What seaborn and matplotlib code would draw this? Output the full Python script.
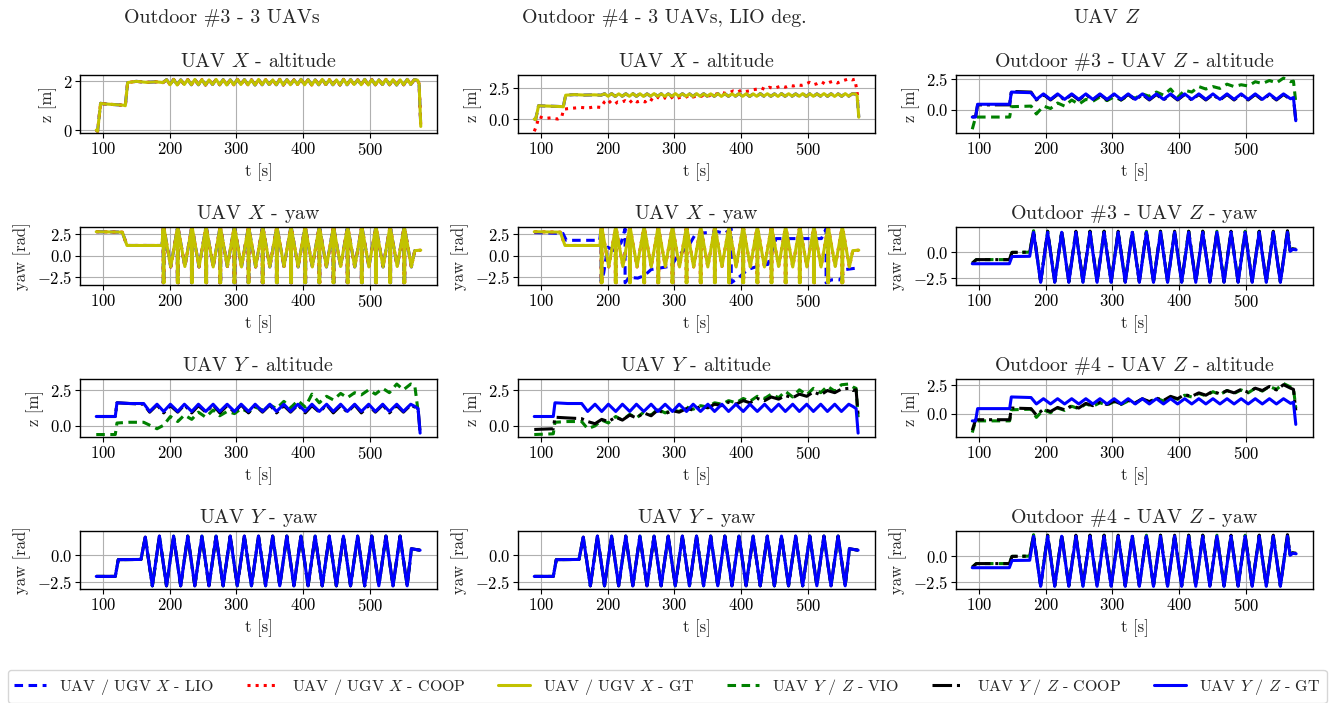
import matplotlib
matplotlib.use("Agg")
import matplotlib.pyplot as plt
import seaborn as sns

# ---------------- data ----------------
# UAV X yaw, ground truth (same trajectory in both runs, wraps at +-pi)
t_x_yaw = [90, 129, 136, 188.5,
           190.2, 190.2, 190.9, 191.6, 191.6, 201.5,
           211.4, 211.4, 212.1, 212.8, 212.8, 222.7,
           232.6, 232.6, 233.3, 234.0, 234.0, 243.9,
           253.8, 253.8, 254.5, 255.2, 255.2, 265.1,
           275.0, 275.0, 275.7, 276.4, 276.4, 286.3,
           296.2, 296.2, 296.9, 297.6, 297.6, 307.5,
           317.4, 317.4, 318.1, 318.8, 318.8, 328.7,
           338.6, 338.6, 339.3, 340.0, 340.0, 349.9,
           359.8, 359.8, 360.5, 361.2, 361.2, 371.1,
           381.0, 381.0, 381.7, 382.4, 382.4, 392.3,
           402.2, 402.2, 402.9, 403.6, 403.6, 413.5,
           423.4, 423.4, 424.1, 424.8, 424.8, 434.7,
           444.6, 444.6, 445.3, 446.0, 446.0, 455.9,
           465.8, 465.8, 466.5, 467.2, 467.2, 477.1,
           487.0, 487.0, 487.7, 488.4, 488.4, 498.3,
           508.2, 508.2, 508.9, 509.6, 509.6, 519.5,
           529.4, 529.4, 530.1, 530.8, 530.8, 540.7,
           550.6, 550.6, 551.3, 552.0, 552.0, 561.9,
           567, 576]
x_yaw_gt = [2.8, 2.75, 1.2, 1.2,
            3.14, -3.14, -2.85, -3.14, 3.14, -1.3,
            3.14, -3.14, -2.85, -3.14, 3.14, -1.25,
            3.14, -3.14, -2.85, -3.14, 3.14, -1.3,
            3.14, -3.14, -2.85, -3.14, 3.14, -1.3,
            3.14, -3.14, -2.85, -3.14, 3.14, -1.25,
            3.14, -3.14, -2.85, -3.14, 3.14, -1.3,
            3.14, -3.14, -2.85, -3.14, 3.14, -1.3,
            3.14, -3.14, -2.85, -3.14, 3.14, -1.3,
            3.14, -3.14, -2.85, -3.14, 3.14, -1.25,
            3.14, -3.14, -2.85, -3.14, 3.14, -1.3,
            3.14, -3.14, -2.85, -3.14, 3.14, -1.3,
            3.14, -3.14, -2.85, -3.14, 3.14, -1.3,
            3.14, -3.14, -2.85, -3.14, 3.14, -1.25,
            3.14, -3.14, -2.85, -3.14, 3.14, -1.3,
            3.14, -3.14, -2.85, -3.14, 3.14, -1.3,
            3.14, -3.14, -2.85, -3.14, 3.14, -1.3,
            3.14, -3.14, -2.85, -3.14, 3.14, -1.25,
            3.14, -3.14, -2.85, -3.14, 3.14, -1.3,
            0.6, 0.65]

# UAV X yaw, LIO estimate in Outdoor #4 (drifting)
t_x_yaw_lio4 = [90, 133, 138, 188, 190, 190, 194, 200, 210, 220,
                226, 226, 232, 245, 255, 265, 280, 295, 305, 320,
                332, 350, 365, 375, 385, 385, 395, 410, 425, 440,
                452, 480, 500, 520, 527, 527, 535, 548, 556, 576]
x_yaw_lio4 = [2.7, 2.6, 1.8, 1.8, 3.14, -3.0, -2.0, 1.0, 0.6, 1.5,
              3.14, -3.14, -2.5, -2.6, -2.3, -1.6, -1.4, -1.2, 0.0, 1.0,
              2.6, 2.7, 2.8, 2.6, 3.14, -3.14, -2.6, -1.6, -1.2, -1.0,
              2.0, 2.0, 2.0, 2.0, 3.14, -3.14, -2.8, -2.8, -1.6, -1.4]

# UAV X altitude, ground truth (also LIO / COOP in Outdoor #3)
t_x_alt = [90, 92, 96.5, 100, 131, 133.5, 137, 150, 165, 180,
           190.0, 195.3, 200.6, 205.9, 211.2, 216.5, 221.8, 227.1, 232.4, 237.7,
           243.0, 248.3, 253.6, 258.9, 264.2, 269.5, 274.8, 280.1, 285.4, 290.7,
           296.0, 301.3, 306.6, 311.9, 317.2, 322.5, 327.8, 333.1, 338.4, 343.7,
           349.0, 354.3, 359.6, 364.9, 370.2, 375.5, 380.8, 386.1, 391.4, 396.7,
           402.0, 407.3, 412.6, 417.9, 423.2, 428.5, 433.8, 439.1, 444.4, 449.7,
           455.0, 460.3, 465.6, 470.9, 476.2, 481.5, 486.8, 492.1, 497.4, 502.7,
           508.0, 513.3, 518.6, 523.9, 529.2, 534.5, 539.8, 545.1, 550.4, 555.7,
           561.0, 566.3, 571, 573.5, 576]
x_alt_gt = [0.0, -0.05, 1.1, 1.08, 1.02, 1.0, 1.95, 2.0, 1.96, 1.98,
            1.95, 2.07, 1.86, 2.08, 1.85, 2.06, 1.87, 2.07, 1.86, 2.08,
            1.86, 2.07, 1.85, 2.06, 1.87, 2.08, 1.86, 2.07, 1.85, 2.06,
            1.86, 2.08, 1.87, 2.07, 1.86, 2.06, 1.85, 2.08, 1.86, 2.07,
            1.87, 2.06, 1.86, 2.08, 1.85, 2.07, 1.86, 2.06, 1.87, 2.08,
            1.86, 2.07, 1.85, 2.06, 1.86, 2.08, 1.87, 2.07, 1.86, 2.06,
            1.85, 2.08, 1.86, 2.07, 1.87, 2.06, 1.86, 2.08, 1.85, 2.07,
            1.86, 2.06, 1.87, 2.08, 1.86, 2.07, 1.85, 2.06, 1.86, 2.08,
            1.87, 2.07, 2.05, 1.9, 0.15]

# UAV X altitude, COOP estimate in Outdoor #4
t_x_alt_coop4 = [90, 93, 97, 105, 115, 125, 131, 134, 140, 150,
                 160, 170, 180, 190, 195, 200, 205, 210, 215, 220,
                 226, 232, 238, 244, 250, 256, 262, 268, 274, 280,
                 286, 292, 298, 304, 310, 316, 322, 328, 334, 340,
                 346, 352, 358, 364, 370, 376, 382, 388, 394, 400,
                 406, 412, 418, 424, 430, 436, 442, 448, 454, 460,
                 466, 472, 478, 484, 490, 496, 502, 508, 514, 520,
                 526, 532, 538, 544, 550, 556, 562, 566, 570, 573,
                 575]
x_alt_coop4 = [-1.0, -0.6, 0.2, 0.05, 0.1, 0.0, 0.15, 0.8, 0.85, 0.9,
               0.95, 0.9, 1.0, 0.95, 1.4, 1.6, 1.3, 1.2, 1.4, 1.35,
               1.5, 1.3, 1.6, 1.4, 1.5, 1.4, 1.7, 1.5, 1.8, 1.6,
               1.75, 1.6, 1.85, 1.7, 1.8, 1.75, 1.95, 1.8, 1.9, 1.85,
               2.05, 1.9, 2.0, 2.05, 2.2, 2.1, 2.15, 2.3, 2.2, 2.35,
               2.25, 2.3, 2.4, 2.45, 2.55, 2.4, 2.6, 2.5, 2.6, 2.7,
               2.6, 2.75, 2.7, 2.8, 2.75, 2.85, 3.0, 2.8, 2.9, 3.05,
               2.85, 3.0, 3.1, 2.95, 3.1, 3.2, 3.3, 3.2, 3.25, 2.4,
               1.5]

# UAV Y yaw (GT, estimates overlap it)
t_y_yaw = [90, 118.5, 123, 157, 163.4, 174.0, 184.6, 195.2, 205.8, 216.4,
           227.0, 237.6, 248.2, 258.8, 269.4, 280.0, 290.6, 301.2, 311.8, 322.4,
           333.0, 343.6, 354.2, 364.8, 375.4, 386.0, 396.6, 407.2, 417.8, 428.4,
           439.0, 449.6, 460.2, 470.8, 481.4, 492.0, 502.6, 513.2, 523.8, 534.4,
           545.0, 555.6, 562, 566, 575]
y_yaw_gt = [-2.0, -2.0, -0.4, -0.38, 1.75, -2.9, 1.85, -2.9, 1.85, -2.9,
            1.85, -2.9, 1.85, -2.9, 1.85, -2.9, 1.85, -2.9, 1.85, -2.9,
            1.85, -2.9, 1.85, -2.9, 1.85, -2.9, 1.85, -2.9, 1.85, -2.9,
            1.85, -2.9, 1.85, -2.9, 1.85, -2.9, 1.85, -2.9, 1.85, -2.9,
            1.85, -2.9, 0.65, 0.6, 0.5]

# UAV Y altitude
t_y_alt = [90, 118.5, 121, 140, 161, 170, 181, 191, 201, 212,
           222, 233, 243, 254, 265, 275, 286, 297, 307, 318,
           328, 339, 350, 360, 371, 381, 392, 403, 413, 424,
           435, 445, 456, 466, 477, 487, 498, 508, 519, 529,
           540, 550, 561, 567, 572, 575]
y_alt_gt = [0.65, 0.65, 1.6, 1.55, 1.55, 1.0, 1.5, 1.0, 1.5, 1.0,
            1.5, 1.0, 1.5, 1.0, 1.5, 1.0, 1.5, 1.0, 1.5, 1.0,
            1.5, 1.0, 1.5, 1.0, 1.5, 1.0, 1.5, 1.0, 1.5, 1.0,
            1.5, 1.0, 1.5, 1.0, 1.5, 1.0, 1.5, 1.0, 1.5, 1.0,
            1.5, 1.0, 1.5, 1.35, 1.2, -0.5]
y_alt_coop3 = [0.65, 0.65, 1.6, 1.55, 1.5, 0.95, 1.45, 0.9, 1.4, 0.95,
               1.45, 0.9, 1.4, 0.95, 1.45, 0.9, 1.4, 0.95, 1.45, 0.9,
               1.4, 0.95, 1.45, 0.9, 1.4, 0.95, 1.45, 0.9, 1.4, 0.95,
               1.45, 0.9, 1.4, 0.95, 1.45, 0.9, 1.4, 0.95, 1.45, 0.9,
               1.4, 0.95, 1.45, 1.3, 1.15, -0.45]
y_alt_vio3 = [-0.6, -0.6, 0.2, 0.25, 0.25, 0.05, -0.2, 0.05, 0.65, 0.3,
              0.75, 0.45, 0.95, 0.6, 1.1, 0.7, 1.0, 0.85, 1.2, 0.95,
              1.3, 1.1, 1.45, 1.2, 1.7, 1.25, 1.75, 1.3, 2.2, 1.6,
              2.05, 1.8, 2.25, 1.95, 2.3, 2.15, 2.5, 2.2, 2.6, 2.3,
              2.9, 2.5, 2.9, 2.8, 1.0, 0.9]
y_alt_coop4 = [-0.25, -0.2, 0.6, 0.55, 0.5, 0.3, 0.15, 0.45, 0.3, 0.6,
               0.4, 0.75, 0.55, 0.9, 0.7, 1.1, 0.85, 1.05, 0.95, 1.2,
               1.1, 1.35, 1.25, 1.5, 1.4, 1.65, 1.5, 1.75, 1.6, 1.9,
               1.75, 2.0, 1.85, 2.1, 1.95, 2.2, 2.05, 2.35, 2.15, 2.45,
               2.3, 2.55, 2.6, 2.45, 2.5, 0.7]
y_alt_vio4 = [-0.6, -0.55, 0.25, 0.3, 0.3, -0.2, 0.0, 0.4, 0.2, 0.65,
              0.4, 0.8, 0.55, 0.95, 0.75, 1.15, 0.9, 1.1, 1.0, 1.3,
              1.15, 1.4, 1.3, 1.6, 1.5, 1.75, 1.6, 1.9, 1.7, 2.05,
              1.9, 2.2, 1.95, 2.4, 2.0, 2.5, 2.15, 2.6, 2.3, 2.75,
              2.4, 2.85, 2.9, 2.7, 2.6, 0.6]

# UAV Z altitude
t_z_alt = [90, 95, 98, 146, 148.5, 178, 186.0, 196.6, 207.2, 217.8,
           228.3, 238.9, 249.5, 260.1, 270.6, 281.2, 291.8, 302.4, 312.9, 323.5,
           334.1, 344.7, 355.2, 365.8, 376.4, 387.0, 397.5, 408.1, 418.7, 429.3,
           439.8, 450.4, 460.9, 471.5, 482.1, 492.7, 503.2, 513.8, 524.4, 535.0,
           545.5, 556.1, 566.7, 571, 574.5]
z_alt_gt = [-0.6, -0.6, 0.45, 0.45, 1.45, 1.4, 0.85, 1.3, 0.85, 1.3,
            0.85, 1.3, 0.85, 1.3, 0.85, 1.3, 0.85, 1.3, 0.85, 1.3,
            0.85, 1.3, 0.85, 1.3, 0.85, 1.3, 0.85, 1.3, 0.85, 1.3,
            0.85, 1.3, 0.85, 1.3, 0.85, 1.3, 0.85, 1.3, 0.85, 1.3,
            0.85, 1.3, 0.9, 1.0, -0.9]
z_alt_coop3 = [-0.6, -0.55, 0.4, 0.4, 1.5, 1.45, 0.8, 1.25, 0.8, 1.25,
               0.8, 1.25, 0.8, 1.25, 0.8, 1.25, 0.8, 1.25, 0.8, 1.25,
               0.8, 1.25, 0.8, 1.25, 0.8, 1.25, 0.8, 1.25, 0.8, 1.25,
               0.8, 1.25, 0.8, 1.25, 0.8, 1.25, 0.8, 1.25, 0.8, 1.25,
               0.8, 1.25, 0.85, 0.95, -0.85]
z_alt_vio3 = [-1.6, -0.6, -0.6, -0.6, 0.25, 0.3, -0.35, 0.3, 0.1, 0.55,
              0.3, 0.8, 0.45, 0.85, 0.7, 1.05, 0.75, 1.05, 0.8, 1.15,
              0.95, 1.3, 1.1, 1.45, 1.2, 1.7, 1.0, 1.6, 1.45, 1.9,
              1.7, 1.9, 1.75, 2.1, 1.9, 2.05, 1.95, 2.3, 2.15, 2.4,
              2.2, 2.6, 2.3, 2.35, 0.6]
z_alt_coop4 = [-1.4, -0.5, -0.5, -0.5, 0.5, 0.45, -0.1, 0.4, 0.2, 0.55,
               0.35, 0.7, 0.5, 0.9, 0.7, 1.0, 0.8, 1.1, 0.85, 1.15,
               0.95, 1.3, 1.05, 1.35, 1.15, 1.5, 1.3, 1.65, 1.5, 1.8,
               1.6, 1.95, 1.7, 2.0, 1.8, 2.1, 1.85, 2.2, 2.0, 2.35,
               2.05, 2.5, 2.2, 2.1, 0.3]
z_alt_vio4 = [-1.6, -0.6, -0.6, -0.6, 0.35, 0.4, -0.3, 0.35, 0.1, 0.5,
              0.3, 0.65, 0.45, 0.85, 0.65, 0.95, 0.75, 1.05, 0.8, 1.1,
              0.9, 1.3, 1.0, 1.35, 1.1, 1.45, 1.25, 1.6, 1.45, 1.75,
              1.55, 1.9, 1.65, 2.0, 1.75, 2.05, 1.8, 2.2, 1.95, 2.35,
              2.1, 2.6, 2.3, 2.2, 0.5]

# UAV Z yaw
t_z_yaw = [90, 96, 145.5, 149.5, 176, 181.8, 192.4, 202.9, 213.5, 224.0,
           234.6, 245.2, 255.8, 266.3, 276.9, 287.4, 298.0, 308.5, 319.1, 329.6,
           340.2, 350.8, 361.4, 371.9, 382.5, 393.0, 403.6, 414.1, 424.7, 435.2,
           445.8, 456.4, 467.0, 477.5, 488.1, 498.6, 509.2, 519.7, 530.3, 540.8,
           551.4, 562.0, 566, 570, 575]
z_yaw_gt = [-1.1, -1.1, -1.1, -0.4, -0.38, 1.95, -2.9, 1.95, -2.9, 1.95,
            -2.9, 1.95, -2.9, 1.95, -2.9, 1.95, -2.9, 1.95, -2.9, 1.95,
            -2.9, 1.95, -2.9, 1.95, -2.9, 1.95, -2.9, 1.95, -2.9, 1.95,
            -2.9, 1.95, -2.9, 1.95, -2.9, 1.95, -2.9, 1.95, -2.9, 1.95,
            -2.9, 1.95, 0.1, 0.3, 0.25]
z_yaw_est = [-1.05, -0.7, -0.7, 0.0, 0.02, 2.1, -2.85, 2.05, -2.85, 2.05,
             -2.85, 2.05, -2.85, 2.05, -2.85, 2.05, -2.85, 2.05, -2.85, 2.05,
             -2.85, 2.05, -2.85, 2.05, -2.85, 2.05, -2.85, 2.05, -2.85, 2.05,
             -2.85, 2.05, -2.85, 2.05, -2.85, 2.05, -2.85, 2.05, -2.85, 2.05,
             -2.85, 2.1, 0.2, 0.35, 0.3]

column_titles = ["Outdoor #3 - 3 UAVs", "Outdoor #4 - 3 UAVs, LIO deg.", "UAV $Z$"]
legend_labels = ["UAV / UGV $X$ - LIO", "UAV / UGV $X$ - COOP", "UAV / UGV $X$ - GT",
                 "UAV $Y$ / $Z$ - VIO", "UAV $Y$ / $Z$ - COOP", "UAV $Y$ / $Z$ - GT"]

# ---------------- style ----------------
sns.set_theme(style="whitegrid", rc={
    "axes.edgecolor": "black", "axes.linewidth": 1.0,
    "grid.color": "#b0b0b0", "grid.linewidth": 0.8,
    "xtick.bottom": True, "ytick.left": True,
    "xtick.color": "black", "ytick.color": "black",
    "xtick.major.size": 3.5, "ytick.major.size": 3.5,
    "xtick.major.width": 0.8, "ytick.major.width": 0.8,
})
plt.rcParams["font.family"] = ["cmr10", "DejaVu Serif"]
plt.rcParams["mathtext.fontset"] = "cm"
plt.rcParams["axes.formatter.use_mathtext"] = True
plt.rcParams["axes.unicode_minus"] = True

STY = {
    "lio": dict(color="blue", linestyle=(0, (2.8, 1.8))),
    "coopx": dict(color="red", linestyle=":"),
    "gtx": dict(color="#c2c200", linestyle="-"),
    "vio": dict(color="green", linestyle=(0, (2.8, 1.8))),
    "coop": dict(color="black", linestyle="-."),
    "gt": dict(color="blue", linestyle="-"),
}


def draw(ax, t, v, key, label=None):
    sns.lineplot(x=t, y=v, ax=ax, estimator=None, sort=False, legend=False,
                 linewidth=2.2, label=label, **STY[key])


fig, axes = plt.subplots(4, 3, figsize=(13.36, 7.03), dpi=100)
fig.subplots_adjust(left=0.0599, right=0.9828, top=0.8933, bottom=0.1622,
                    wspace=0.227, hspace=1.62)

# column 1: Outdoor #3
ax = axes[0, 0]
draw(ax, t_x_alt, x_alt_gt, "lio", legend_labels[0])
draw(ax, t_x_alt, x_alt_gt, "coopx", legend_labels[1])
draw(ax, t_x_alt, x_alt_gt, "gtx", legend_labels[2])
ax = axes[1, 0]
draw(ax, t_x_yaw, x_yaw_gt, "lio")
draw(ax, t_x_yaw, x_yaw_gt, "coopx")
draw(ax, t_x_yaw, x_yaw_gt, "gtx")
ax = axes[2, 0]
draw(ax, t_y_alt, y_alt_vio3, "vio", legend_labels[3])
draw(ax, t_y_alt, y_alt_coop3, "coop", legend_labels[4])
draw(ax, t_y_alt, y_alt_gt, "gt", legend_labels[5])
ax = axes[3, 0]
draw(ax, t_y_yaw, y_yaw_gt, "vio")
draw(ax, t_y_yaw, y_yaw_gt, "coop")
draw(ax, t_y_yaw, y_yaw_gt, "gt")

# column 2: Outdoor #4
ax = axes[0, 1]
draw(ax, t_x_alt, x_alt_gt, "lio")
draw(ax, t_x_alt_coop4, x_alt_coop4, "coopx")
draw(ax, t_x_alt, x_alt_gt, "gtx")
ax = axes[1, 1]
draw(ax, t_x_yaw_lio4, x_yaw_lio4, "lio")
draw(ax, t_x_yaw, x_yaw_gt, "coopx")
draw(ax, t_x_yaw, x_yaw_gt, "gtx")
ax = axes[2, 1]
draw(ax, t_y_alt, y_alt_vio4, "vio")
draw(ax, t_y_alt, y_alt_coop4, "coop")
draw(ax, t_y_alt, y_alt_gt, "gt")
ax = axes[3, 1]
draw(ax, t_y_yaw, y_yaw_gt, "vio")
draw(ax, t_y_yaw, y_yaw_gt, "coop")
draw(ax, t_y_yaw, y_yaw_gt, "gt")

# column 3: UAV Z in both runs
ax = axes[0, 2]
draw(ax, t_z_alt, z_alt_vio3, "vio")
draw(ax, t_z_alt, z_alt_coop3, "coop")
draw(ax, t_z_alt, z_alt_gt, "gt")
ax = axes[1, 2]
draw(ax, t_z_yaw, z_yaw_est, "vio")
draw(ax, t_z_yaw, z_yaw_est, "coop")
draw(ax, t_z_yaw, z_yaw_gt, "gt")
ax = axes[2, 2]
draw(ax, t_z_alt, z_alt_vio4, "vio")
draw(ax, t_z_alt, z_alt_coop4, "coop")
draw(ax, t_z_alt, z_alt_gt, "gt")
ax = axes[3, 2]
draw(ax, t_z_yaw, z_yaw_est, "vio")
draw(ax, t_z_yaw, z_yaw_est, "coop")
draw(ax, t_z_yaw, z_yaw_gt, "gt")

titles = [["UAV $X$ - altitude", "UAV $X$ - altitude", "Outdoor #3 - UAV $Z$ - altitude"],
          ["UAV $X$ - yaw", "UAV $X$ - yaw", "Outdoor #3 - UAV $Z$ - yaw"],
          ["UAV $Y$ - altitude", "UAV $Y$ - altitude", "Outdoor #4 - UAV $Z$ - altitude"],
          ["UAV $Y$ - yaw", "UAV $Y$ - yaw", "Outdoor #4 - UAV $Z$ - yaw"]]
ylims = [[(-0.12, 2.26), (-1.14, 3.6), (-1.91, 2.85)],
         [(-3.4, 3.35), (-3.4, 3.35), (-3.16, 2.46)],
         [(-0.77, 3.25), (-0.77, 3.25), (-1.98, 2.99)],
         [(-3.2, 2.34), (-3.2, 2.34), (-3.16, 2.46)]]
yticks = [[[0, 2], [0, 2.5], [0, 2.5]],
          [[-2.5, 0, 2.5], [-2.5, 0, 2.5], [-2.5, 0]],
          [[0, 2.5], [0, 2.5], [0, 2.5]],
          [[-2.5, 0], [-2.5, 0], [-2.5, 0]]]

for r in range(4):
    for c in range(3):
        ax = axes[r, c]
        ax.set_xlim(65.7, 600.3)
        ax.set_xticks([100, 200, 300, 400, 500])
        ax.set_ylim(*ylims[r][c])
        ax.set_yticks(yticks[r][c])
        ax.set_title(titles[r][c], fontsize=14.4)
        ax.set_xlabel("t [s]", fontsize=12)
        ax.set_ylabel("z [m]" if r in (0, 2) else "yaw [rad]", fontsize=12)
        ax.tick_params(labelsize=12, pad=2)
        ax.grid(True)
        for s in ax.spines.values():
            s.set_visible(True)
            s.set_color("black")

for x, txt in zip([0.166, 0.497, 0.829], column_titles):
    fig.text(x, 0.975, txt, ha="center", va="center", fontsize=14.4)

handles = list(axes[0, 0].get_lines()) + list(axes[2, 0].get_lines())
fig.legend(handles, legend_labels, loc="lower left", ncol=6, mode="expand",
           bbox_to_anchor=(0.006, 0.0, 0.987, 0.04), fontsize=11.5,
           frameon=True, borderaxespad=0.0, handlelength=2.0)

fig.savefig("out.png", dpi=100)
